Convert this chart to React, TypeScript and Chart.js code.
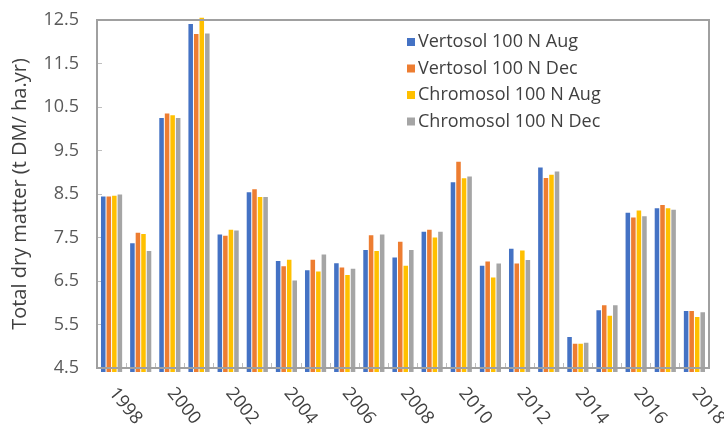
import React, { useEffect, useRef } from "react";
import { Chart, registerables } from "chart.js";

Chart.register(...registerables);

const years = ["1998","1999","2000","2001","2002","2003","2004","2005","2006","2007","2008","2009","2010","2011","2012","2013","2014","2015","2016","2017","2018"];
const xTickLabels = ["1998","2000","2002","2004","2006","2008","2010","2012","2014","2016","2018"];
const yTicks = [4.5, 5.5, 6.5, 7.5, 8.5, 9.5, 10.5, 11.5, 12.5];

const vertosolAug = [8.44, 7.37, 10.25, 12.41, 7.57, 8.54, 6.96, 6.75, 6.91, 7.21, 7.04, 7.63, 8.77, 6.85, 7.24, 9.11, 5.21, 5.83, 8.07, 8.17, 5.81];
const vertosolDec = [8.44, 7.61, 10.35, 12.18, 7.54, 8.61, 6.84, 6.99, 6.81, 7.55, 7.40, 7.68, 9.24, 6.95, 6.90, 8.87, 5.06, 5.94, 7.96, 8.25, 5.81];
const chromosolAug = [8.46, 7.58, 10.31, 12.55, 7.68, 8.43, 6.99, 6.72, 6.64, 7.19, 6.85, 7.50, 8.86, 6.58, 7.20, 8.94, 5.06, 5.70, 8.12, 8.17, 5.67];
const chromosolDec = [8.49, 7.19, 10.25, 12.19, 7.66, 8.43, 6.51, 7.11, 6.78, 7.57, 7.21, 7.63, 8.90, 6.90, 6.98, 9.02, 5.08, 5.94, 7.99, 8.14, 5.78];

const seriesNames = ["Vertosol 100 N Aug", "Vertosol 100 N Dec", "Chromosol 100 N Aug", "Chromosol 100 N Dec"];
const seriesColors = ["#4472C4", "#ED7D31", "#FFC000", "#A5A5A5"];

const FONT = "'Open Sans', 'Liberation Sans', sans-serif";
const FRAME = "#A0A0A0";

const frameAndLabels = {
  id: "frameAndLabels",
  afterDraw(chart: any) {
    const ctx = chart.ctx;
    const a = chart.chartArea;
    const xs = chart.scales.x;
    ctx.save();
    ctx.setLineDash([]);
    ctx.globalAlpha = 1;
    // full plot frame
    ctx.strokeStyle = FRAME;
    ctx.lineWidth = 2;
    ctx.strokeRect(a.left, a.top, a.right - a.left, a.bottom - a.top);
    // rotated x labels
    ctx.fillStyle = "#404040";
    ctx.font = `18px ${FONT}`;
    ctx.textAlign = "left";
    ctx.textBaseline = "middle";
    years.forEach((y, i) => {
      if (!xTickLabels.includes(y)) return;
      const x = xs.getPixelForValue(i);
      ctx.save();
      ctx.translate(x + 1, xs.top + 22);
      ctx.rotate((51 * Math.PI) / 180);
      ctx.fillText(y, 0, 0);
      ctx.restore();
    });
    // legend inside plot
    const lx = 407;
    const ly = 42;
    const step = 26.5;
    chart.data.datasets.forEach((ds: any, i: number) => {
      const cy = ly + i * step;
      ctx.fillStyle = ds.backgroundColor;
      ctx.fillRect(lx, cy - 4, 8, 8);
      ctx.fillStyle = "#404040";
      ctx.fillText(ds.label, lx + 11, cy);
    });
    ctx.restore();
  },
};

export default function App() {
  const ref = useRef<HTMLCanvasElement | null>(null);
  useEffect(() => {
    document.body.style.margin = "0";
    if (!ref.current) return;
    const data = [vertosolAug, vertosolDec, chromosolAug, chromosolDec];
    const chart = new Chart(ref.current, {
      type: "bar",
      data: {
        labels: years,
        datasets: data.map((d, i) => ({
          label: seriesNames[i],
          data: d,
          backgroundColor: seriesColors[i],
          borderWidth: 0,
          categoryPercentage: 0.76,
          barPercentage: 0.82,
          clip: 4,
        })),
      },
      options: {
        responsive: false,
        animation: false,
        layout: { padding: { top: 20, right: 15, left: 0, bottom: 0 } },
        plugins: { legend: { display: false }, tooltip: { enabled: false } },
        scales: {
          x: {
            grid: { drawOnChartArea: false, tickLength: -5, color: "#BFBFBF", offset: true },
            border: { display: false },
            ticks: { display: false },
            afterFit: (s: any) => { s.height = 61; s.paddingLeft = 0; s.paddingRight = 0; },
          },
          y: {
            min: 4.5,
            max: 12.5,
            grid: { drawOnChartArea: false, tickLength: -5, color: "#BFBFBF" },
            border: { display: false },
            afterBuildTicks: (s: any) => { s.ticks = yTicks.map((v) => ({ value: v })); },
            ticks: {
              padding: 23,
              color: "#595959",
              font: { family: FONT, size: 18 },
              callback: (v: any) => Number(v).toFixed(1),
            },
            title: {
              display: true,
              text: "Total dry matter (t DM/ ha.yr)",
              color: "#404040",
              font: { family: FONT, size: 20 },
              padding: { top: 8, bottom: 0 },
            },
            afterFit: (s: any) => { s.width = 97; s.paddingTop = 0; s.paddingBottom = 0; },
          },
        },
      },
      plugins: [frameAndLabels],
    });
    return () => chart.destroy();
  }, []);
  return <canvas ref={ref} width={724} height={429} style={{ display: "block" }} />;
}
